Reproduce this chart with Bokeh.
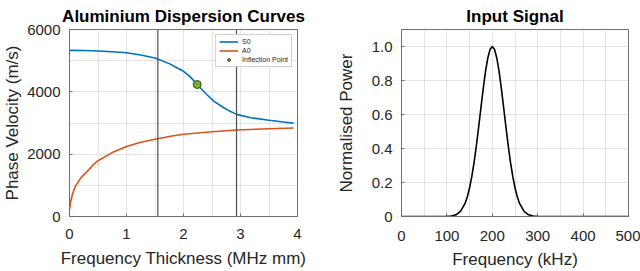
from bokeh.plotting import figure
from bokeh.layouts import row
from bokeh.models import Span, FixedTicker, Range1d, CustomJSTickFormatter
from bokeh.embed import file_html
from bokeh.resources import INLINE

# ---------------- data ----------------
s0_x = [0, 0.25, 0.5, 0.75, 1.0, 1.25, 1.5, 1.75, 1.9, 2.0, 2.12, 2.24, 2.39,
        2.53, 2.68, 2.8, 2.93, 3.18, 3.5, 3.75, 3.93]
s0_v = [5330, 5325, 5310, 5287, 5256, 5181, 5086, 4905, 4756, 4660, 4480, 4235,
        3948, 3702, 3521, 3390, 3277, 3170, 3090, 3030, 2995]

a0_x = [0, 0.02, 0.05, 0.1, 0.2, 0.3, 0.4, 0.5, 0.75, 1.0, 1.25, 1.5, 1.8, 2.0,
        2.5, 2.93, 3.5, 3.93]
a0_v = [220, 480, 700, 960, 1240, 1430, 1630, 1790, 2050, 2245, 2380, 2480,
        2585, 2640, 2720, 2777, 2815, 2840]

infl_x = [2.24]
infl_v = [4235]

vline_x = [1.55, 2.93]

sig_f = [0, 100, 110, 120, 130, 140, 145, 150, 155, 160, 165, 170, 175, 180,
         185, 190, 195, 200, 205, 210, 215, 220, 225, 230, 235, 240, 245, 250,
         255, 260, 270, 280, 290, 300, 500]
sig_p = [0, 0.001, 0.003, 0.010, 0.030, 0.077, 0.116, 0.169, 0.237, 0.320,
         0.418, 0.527, 0.641, 0.752, 0.852, 0.931, 0.982, 1.0, 0.982, 0.931,
         0.852, 0.752, 0.641, 0.527, 0.418, 0.320, 0.237, 0.169, 0.116, 0.077,
         0.030, 0.010, 0.003, 0.001, 0]

left_xticks = [0, 1, 2, 3, 4]
left_xminor = [0.5, 1.5, 2.5, 3.5]
left_yticks = [0, 2000, 4000, 6000]
left_yminor = [1000, 3000, 5000]
right_xticks = [0, 100, 200, 300, 400, 500]
right_xminor = [50, 150, 250, 350, 450]
right_yticks = [0, 0.2, 0.4, 0.6, 0.8, 1.0]

left_title = "Aluminium Dispersion Curves"
right_title = "Input Signal"

FONT = "Liberation Sans"
TXT = "#262626"
AX = "#707070"
GRID = "#e3e3e3"


def style(p, xlabel, ylabel, x_std, y_std, xl_std, yl_std):
    p.title.text_font = FONT
    p.title.text_font_size = "17px"
    p.title.text_font_style = "bold"
    p.title.text_color = "#000000"
    p.title.align = "center"
    p.title.offset = -2
    p.title.standoff = 8
    p.outline_line_color = AX
    p.outline_line_width = 1
    p.background_fill_color = "white"
    p.border_fill_color = "white"
    for ax in (p.xaxis[0], p.yaxis[0]):
        ax.axis_line_color = AX
        ax.major_tick_line_color = AX
        ax.major_tick_in = 3
        ax.major_tick_out = 0
        ax.minor_tick_line_color = None
        ax.major_label_text_font = FONT
        ax.major_label_text_font_size = "15px"
        ax.major_label_text_color = TXT
        ax.axis_label_text_font = FONT
        ax.axis_label_text_font_size = "17px"
        ax.axis_label_text_font_style = "normal"
        ax.axis_label_text_color = TXT
    p.xaxis.axis_label = xlabel
    p.yaxis.axis_label = ylabel
    p.xaxis.major_label_standoff = x_std
    p.yaxis.major_label_standoff = y_std
    p.xaxis.axis_label_standoff = xl_std
    p.yaxis.axis_label_standoff = yl_std
    p.xgrid.grid_line_color = GRID
    p.ygrid.grid_line_color = GRID


# ---------------- left: dispersion curves ----------------
p1 = figure(width=320, height=271, x_range=Range1d(0, 4), y_range=Range1d(0, 6000),
            output_backend="svg", toolbar_location=None, title=left_title,
            min_border_left=69, min_border_right=23,
            min_border_top=29, min_border_bottom=54)
style(p1, "Frequency Thickness (MHz mm)", "Phase Velocity (m/s)", 8, 5, 7, 2)
p1.xaxis.ticker = FixedTicker(ticks=left_xticks, minor_ticks=left_xminor)
p1.yaxis.ticker = FixedTicker(ticks=left_yticks, minor_ticks=left_yminor)
p1.xgrid.minor_grid_line_color = GRID
p1.ygrid.minor_grid_line_color = GRID

for xv in vline_x:
    p1.add_layout(Span(location=xv, dimension="height", line_color="#4d4d4d",
                       line_width=1.2))

p1.line(s0_x, s0_v, line_color="#0072BD", line_width=1.6, legend_label="S0")
p1.line(a0_x, a0_v, line_color="#D95319", line_width=1.6, legend_label="A0")
p1.scatter(infl_x, infl_v, size=8, fill_color="#77AC30", line_color="#3b5417",
           line_width=1, legend_label="Inflection Point")

lg = p1.legend[0]
lg.location = "top_right"
lg.margin = 5
lg.padding = 3
lg.spacing = 2
lg.glyph_width = 19
lg.glyph_height = 7
lg.label_height = 7
lg.label_standoff = 4
lg.label_text_font = FONT
lg.label_text_font_size = "7px"
lg.label_text_color = TXT
lg.border_line_color = "#a0a0a0"
lg.border_line_width = 0.8
lg.background_fill_alpha = 1.0

# ---------------- right: input signal ----------------
p2 = figure(width=320, height=271, x_range=Range1d(0, 500), y_range=Range1d(0, 1.1),
            output_backend="svg", toolbar_location=None, title=right_title,
            min_border_left=81, min_border_right=12,
            min_border_top=29, min_border_bottom=54)
style(p2, "Frequency (kHz)", "Normalised Power", 10, 9, 6, 13)
p2.xaxis.ticker = FixedTicker(ticks=right_xticks, minor_ticks=right_xminor)
p2.yaxis.ticker = FixedTicker(ticks=right_yticks)
p2.yaxis.formatter = CustomJSTickFormatter(
    code="return tick == 0 ? '0' : tick.toFixed(1);")
p2.xgrid.minor_grid_line_color = GRID

p2.line(sig_f, sig_p, line_color="#000000", line_width=1.6)

layout = row(p1, p2, spacing=0)

open("out.html", "w").write(file_html(layout, INLINE))
